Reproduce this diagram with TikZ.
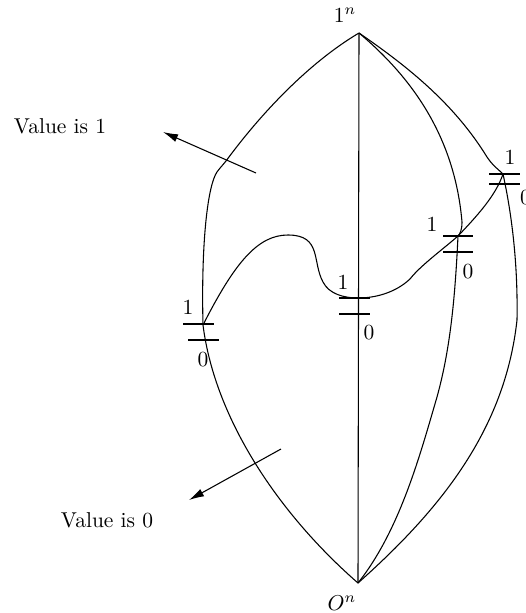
\documentclass[tikz,border=0pt]{standalone}
\usetikzlibrary{arrows.meta}
\tikzset{
    curve/.style={line width=0.5pt},
    tick/.style={line width=0.5pt},
    pointer/.style={line width=0.5pt,-{Latex[length=7pt,width=3.8pt]}},
    lab/.style={inner sep=0pt}
}
\begin{document}
\begin{tikzpicture}[x=0.465pt,y=-0.465pt]
    \useasboundingbox (0,0) rectangle (526,613);

    % Poles of the cube
    \coordinate (top) at (359,33);
    \coordinate (bot) at (358,583);
    \node[lab] (toplabel) at (345,15) {$1^n$};
    \node[lab] (botlabel) at (342,603) {$O^n$};

    % Points on the boundary
    \coordinate (pa) at (203,325);
    \coordinate (pb) at (358,298);
    \coordinate (pc) at (458,236);
    \coordinate (pd) at (503,174);
    \coordinate (kink) at (217,172);

    % Chains
    \draw[curve] (top) .. controls (310,62) and (262,112) .. (226,161)
        .. controls (222,166) and (219,169) .. (kink)
        .. controls (208,185) and (201,240) .. (pa)
        .. controls (215,420) and (280,515) .. (bot);
    \draw[curve] (top) -- (bot);
    \draw[curve] (top) .. controls (415,80) and (455,140) .. (462,222)
        .. controls (462,230) and (460,234) .. (pc)
        .. controls (455,300) and (450,350) .. (437,397)
        .. controls (420,455) and (400,530) .. (bot);
    \draw[curve] (top) .. controls (410,68) and (455,105) .. (487,157)
        .. controls (493,166) and (498,169) .. (pd)
        .. controls (512,215) and (518,265) .. (517,320)
        .. controls (505,430) and (440,510) .. (bot);

    % Threshold curve
    \draw[curve] (pa) .. controls (235,262) and (258,235) .. (288,235)
        .. controls (322,235) and (312,262) .. (323,282)
        .. controls (329,294) and (344,298) .. (pb)
        .. controls (375,298) and (395,293) .. (410,279)
        .. controls (420,266) and (442,250) .. (pc)
        .. controls (478,215) and (496,195) .. (pd);

    % Ticks
    \draw[tick] (183,324) -- (214,324);
    \draw[tick] (188,340) -- (219,340);
    \draw[tick] (339,298) -- (370,298);
    \draw[tick] (339,314) -- (370,314);
    \draw[tick] (443,236) -- (473,236);
    \draw[tick] (443,252) -- (473,252);
    \draw[tick] (489,174) -- (520,174);
    \draw[tick] (489,184) -- (520,184);

    % Labels
    \node[lab] (onea) at (188,307) {1};
    \node[lab] (zeroa) at (203,360) {0};
    \node[lab] (oneb) at (343,282) {1};
    \node[lab] (zerob) at (369,333) {0};
    \node[lab] (onec) at (432,224) {1};
    \node[lab] (zeroc) at (468,272) {0};
    \node[lab] (oned) at (510,157) {1};
    \node[lab] (zerod) at (525.5,198) {0};

    % Regions
    \node[lab] (valone) at (60,126) {Value is 1};
    \node[lab] (valzero) at (107,520) {Value is 0};
    \coordinate (arrowa) at (256,173);
    \coordinate (tipa) at (163,132);
    \coordinate (arrowb) at (281,449);
    \coordinate (tipb) at (189,500);
    \draw[pointer] (arrowa) -- (tipa);
    \draw[pointer] (arrowb) -- (tipb);
\end{tikzpicture}
\end{document}
